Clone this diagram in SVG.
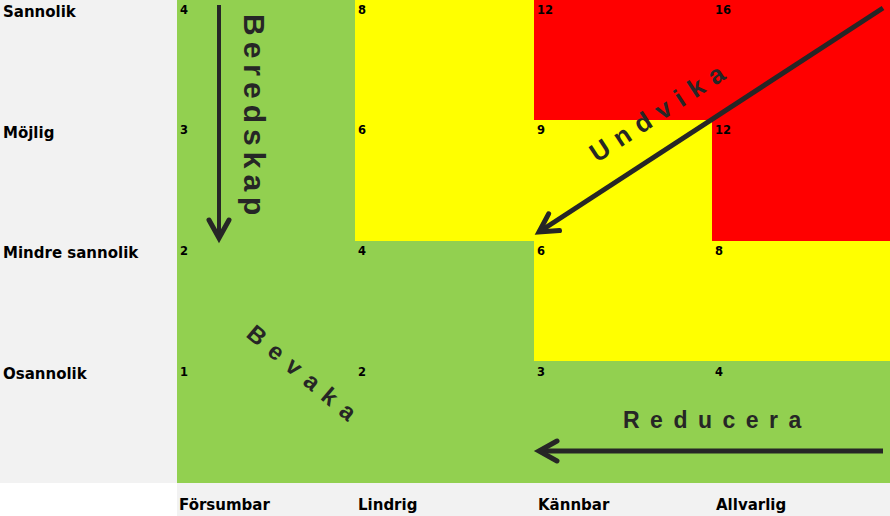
<svg xmlns="http://www.w3.org/2000/svg" width="890" height="516" viewBox="0 0 890 516">
<defs>
<style>
.g{fill:#92d050}.y{fill:#ffff00}.r{fill:#ff0000}
.n{font-family:"DejaVu Sans",sans-serif;font-weight:bold;font-size:11.5px;fill:#000}
.lb{font-family:"DejaVu Sans",sans-serif;font-weight:bold;font-size:15px;fill:#000}
.wa{font-family:"Liberation Sans",Arial,sans-serif;font-weight:bold;fill:#262626}
.ar{stroke:#262626;fill:none;stroke-width:5;marker-end:url(#ah)}
</style>
<marker id="ah" markerUnits="userSpaceOnUse" orient="auto" markerWidth="40" markerHeight="40" viewBox="-25 -20 40 40" refX="0" refY="0" overflow="visible">
<path d="M-18,-10 L0,0 L-18,10" fill="none" stroke="#262626" stroke-width="5" stroke-linecap="round" stroke-linejoin="miter"/>
</marker>
</defs>
<rect x="0" y="0" width="890" height="516" fill="#ffffff"/>
<rect x="0" y="0" width="177" height="483" fill="#f2f2f2"/>
<rect x="177" y="483" width="713" height="33" fill="#f2f2f2"/>

<g id="labels-y">
<text class="lb" x="3" y="17">Sannolik</text>
<text class="lb" x="3" y="138">Möjlig</text>
<text class="lb" x="3" y="258">Mindre sannolik</text>
<text class="lb" x="3" y="379">Osannolik</text>
</g>
<g id="labels-x">
<text class="lb" x="179" y="510">Försumbar</text>
<text class="lb" x="358" y="510">Lindrig</text>
<text class="lb" x="538" y="510">Kännbar</text>
<text class="lb" x="716" y="510">Allvarlig</text>
</g>

<g id="c-0-0"><rect class="g" x="177" y="0" width="178" height="120"/><text class="n" x="180" y="14">4</text></g>
<g id="c-0-1"><rect class="y" x="355" y="0" width="179" height="120"/><text class="n" x="358" y="14">8</text></g>
<g id="c-0-2"><rect class="r" x="534" y="0" width="178" height="120"/><text class="n" x="537" y="14">12</text></g>
<g id="c-0-3"><rect class="r" x="712" y="0" width="178" height="120"/><text class="n" x="715" y="14">16</text></g>

<g id="c-1-0"><rect class="g" x="177" y="120" width="178" height="121"/><text class="n" x="180" y="134">3</text></g>
<g id="c-1-1"><rect class="y" x="355" y="120" width="179" height="121"/><text class="n" x="358" y="134">6</text></g>
<g id="c-1-2"><rect class="y" x="534" y="120" width="178" height="121"/><text class="n" x="537" y="134">9</text></g>
<g id="c-1-3"><rect class="r" x="712" y="120" width="178" height="121"/><text class="n" x="715" y="134">12</text></g>

<g id="c-2-0"><rect class="g" x="177" y="241" width="178" height="120"/><text class="n" x="180" y="255">2</text></g>
<g id="c-2-1"><rect class="g" x="355" y="241" width="179" height="120"/><text class="n" x="358" y="255">4</text></g>
<g id="c-2-2"><rect class="y" x="534" y="241" width="178" height="120"/><text class="n" x="537" y="255">6</text></g>
<g id="c-2-3"><rect class="y" x="712" y="241" width="178" height="120"/><text class="n" x="715" y="255">8</text></g>

<g id="c-3-0"><rect class="g" x="177" y="361" width="178" height="122"/><text class="n" x="180" y="376">1</text></g>
<g id="c-3-1"><rect class="g" x="355" y="361" width="179" height="122"/><text class="n" x="358" y="376">2</text></g>
<g id="c-3-2"><rect class="g" x="534" y="361" width="178" height="122"/><text class="n" x="537" y="376">3</text></g>
<g id="c-3-3"><rect class="g" x="712" y="361" width="178" height="122"/><text class="n" x="715" y="376">4</text></g>

<g id="connectors">
<line class="ar" x1="219" y1="5" x2="219" y2="238" style="stroke-width:4"/>
<line class="ar" x1="883" y1="451" x2="539" y2="451"/>
<line class="ar" x1="883" y1="8" x2="539" y2="232"/>
</g>

<g id="wordart">
<text class="wa" font-size="30" letter-spacing="6" transform="translate(244,14) rotate(90)">Beredskap</text>
<text class="wa" font-size="23" letter-spacing="10.5" x="623" y="428">Reducera</text>
<text class="wa" font-size="26" letter-spacing="9" transform="translate(597,163) rotate(-33.2)">Undvika</text>
<text class="wa" font-size="24" letter-spacing="10" transform="translate(245,336) rotate(40)">Bevaka</text>
</g>
</svg>
